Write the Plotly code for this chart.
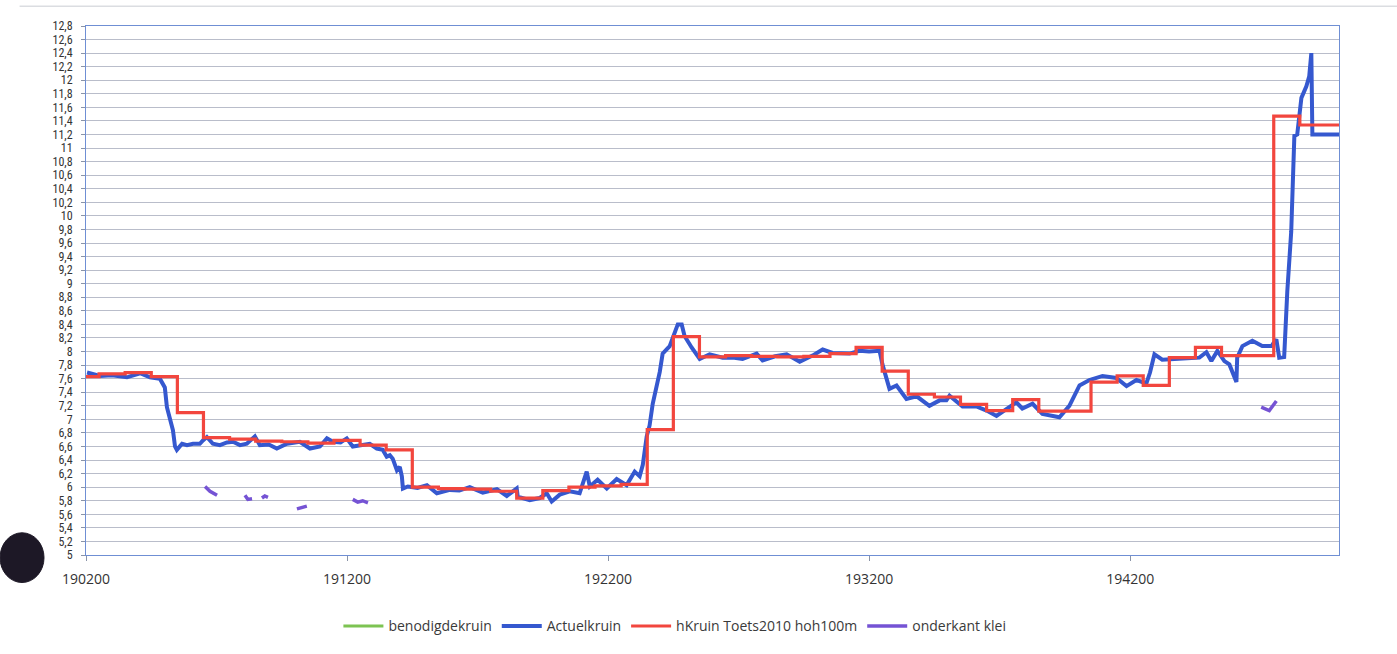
import plotly.graph_objects as go

# Dyke crest profile along the chainage (m)

# hKruin Toets2010, one value per 100 m section (station centres)
toets_x = list(range(190200, 195001, 100))
toets_y = [
    7.63, 7.67, 7.69, 7.63, 7.10, 6.73, 6.71, 6.68, 6.67, 6.65,
    6.69, 6.62, 6.55, 6.00, 5.98, 5.97, 5.94, 5.84, 5.95, 6.00,
    6.02, 6.04, 6.85, 8.22, 7.92, 7.94, 7.93, 7.92, 7.93, 7.97,
    8.06, 7.71, 7.37, 7.33, 7.22, 7.13, 7.29, 7.12, 7.12, 7.55,
    7.64, 7.50, 7.91, 8.06, 7.94, 7.94, 11.47, 11.34, 11.34,
]

# Measured actual crest height
actueel_x = [
    190204, 190254, 190300, 190357, 190407, 190445, 190483, 190502, 190510, 190522,
    190533, 190541, 190548, 190568, 190587, 190610, 190636, 190648, 190663, 190686,
    190713, 190740, 190763, 190790, 190816, 190847, 190866, 190900, 190931, 190970,
    191019, 191058, 191096, 191123, 191146, 191175, 191199, 191222, 191250, 191287,
    191314, 191337, 191352, 191364, 191375, 191391, 191402, 191410, 191414, 191433,
    191470, 191506, 191544, 191594, 191630, 191670, 191720, 191774, 191812, 191850,
    191854, 191900, 191938, 191965, 191984, 192015, 192053, 192091, 192118, 192130,
    192160, 192195, 192233, 192271, 192302, 192321, 192333, 192348, 192359, 192371,
    192398, 192409, 192436, 192467, 192482, 192493, 192520, 192551, 192589, 192639,
    192677, 192715, 192769, 192792, 192840, 192884, 192934, 192983, 193022, 193060,
    193125, 193163, 193200, 193240, 193251, 193267, 193278, 193305, 193328, 193343,
    193382, 193431, 193470, 193496, 193508, 193558, 193611, 193650, 193688, 193738,
    193764, 193787, 193826, 193864, 193929, 193967, 194006, 194044, 194094, 194147,
    194186, 194224, 194262, 194276, 194293, 194323, 194400, 194465, 194492, 194511,
    194534, 194561, 194580, 194607, 194610, 194630, 194668, 194706, 194741, 194760,
    194771, 194790, 194802, 194817, 194829, 194840, 194856, 194875, 194886, 194894,
    194898, 195000,
]
actueel_y = [
    7.69, 7.64, 7.65, 7.62, 7.68, 7.62, 7.60, 7.47, 7.18, 6.99,
    6.84, 6.60, 6.55, 6.64, 6.62, 6.64, 6.64, 6.69, 6.74, 6.64,
    6.62, 6.66, 6.67, 6.62, 6.64, 6.75, 6.62, 6.63, 6.57, 6.64,
    6.67, 6.57, 6.60, 6.72, 6.67, 6.66, 6.72, 6.60, 6.62, 6.64,
    6.57, 6.55, 6.45, 6.47, 6.42, 6.25, 6.30, 6.16, 5.98, 6.01,
    5.99, 6.03, 5.91, 5.96, 5.95, 6.00, 5.92, 5.97, 5.87, 5.98,
    5.86, 5.81, 5.84, 5.91, 5.79, 5.89, 5.94, 5.91, 6.23, 6.01,
    6.11, 5.98, 6.12, 6.03, 6.23, 6.16, 6.33, 6.75, 6.91, 7.23,
    7.70, 7.97, 8.08, 8.40, 8.40, 8.23, 8.06, 7.89, 7.96, 7.91,
    7.91, 7.89, 7.97, 7.87, 7.93, 7.96, 7.85, 7.94, 8.03, 7.98,
    7.97, 8.01, 8.00, 8.01, 7.81, 7.62, 7.45, 7.50, 7.38, 7.30,
    7.34, 7.20, 7.28, 7.28, 7.35, 7.19, 7.19, 7.13, 7.05, 7.19,
    7.25, 7.16, 7.23, 7.08, 7.03, 7.20, 7.50, 7.58, 7.64, 7.61,
    7.49, 7.58, 7.53, 7.69, 7.96, 7.88, 7.89, 7.91, 7.99, 7.86,
    8.01, 7.86, 7.81, 7.55, 7.91, 8.08, 8.16, 8.08, 8.08, 8.18,
    7.91, 7.92, 8.89, 9.77, 11.18, 11.20, 11.74, 11.91, 12.06, 12.40,
    11.20, 11.20,
]

# Underside of the clay layer (short measured fragments)
klei_x = [
    190656, 190675, 190702, None,
    190809, 190820, 190836, None,
    190874, 190885, 190897, None,
    191008, 191027, 191046, None,
    191222, 191241, 191260, 191280, None,
    194702, 194733, 194760,
]
klei_y = [
    6.01, 5.94, 5.88, None,
    5.88, 5.82, 5.83, None,
    5.84, 5.87, 5.85, None,
    5.68, 5.70, 5.72, None,
    5.82, 5.78, 5.80, 5.77, None,
    7.18, 7.13, 7.27,
]

# Required crest height (no values in this stretch)
benodigd_x = [None]
benodigd_y = [None]

fig = go.Figure()
fig.add_trace(go.Scatter(x=benodigd_x, y=benodigd_y, mode="lines", name="benodigdekruin",
                         showlegend=True, line=dict(color="#7dc352", width=3)))
fig.add_trace(go.Scatter(x=actueel_x, y=actueel_y, mode="lines", name="Actuelkruin",
                         line=dict(color="#3558cf", width=4)))
fig.add_trace(go.Scatter(x=toets_x, y=toets_y, mode="lines", name="hKruin Toets2010 hoh100m",
                         line=dict(color="#f2463e", width=3.2, shape="hvh")))
fig.add_trace(go.Scatter(x=klei_x, y=klei_y, mode="lines", name="onderkant klei",
                         line=dict(color="#7553d4", width=3.5), connectgaps=False))

tick_font = "Liberation Sans Narrow, Roboto Condensed, Roboto, sans-serif"
text_font = "Open Sans, Noto Sans, sans-serif"

fig.update_layout(
    width=1397, height=654,
    margin=dict(l=86, r=58, t=26, b=95),
    paper_bgcolor="white",
    plot_bgcolor="white",
    separators=",.",
    font=dict(family=text_font, size=14, color="#3a3a3a"),
    showlegend=True,
    legend=dict(orientation="h", x=0.47, xanchor="center", y=-0.135, yanchor="middle",
                font=dict(family=text_font, size=14, color="#3a3a3a"),
                itemwidth=40, bgcolor="rgba(0,0,0,0)"),
    xaxis=dict(
        range=[190200, 195000], tick0=190200, dtick=1000, tickformat="d",
        showgrid=False, zeroline=False,
        showline=True, linecolor="#6f8fd4", linewidth=1, mirror=True,
        ticks="outside", ticklen=5, tickcolor="#8a94a8", ticklabelstandoff=6,
        tickfont=dict(family=text_font, size=14, color="#333333"),
    ),
    yaxis=dict(
        range=[5, 12.8], tick0=5, dtick=0.2,
        showgrid=True, gridcolor="#b9bdca", gridwidth=1, zeroline=False,
        showline=True, linecolor="#6f8fd4", linewidth=1, mirror=True,
        ticks="outside", ticklen=4, tickcolor="#8a94a8", ticklabelstandoff=6,
        tickfont=dict(family=tick_font, size=12, color="#333333"),
    ),
    shapes=[
        # punch-hole mark at the lower left of the sheet
        dict(type="circle", xref="paper", yref="paper",
             x0=-0.0686, x1=-0.0335, y0=-0.052, y1=0.042,
             fillcolor="#1d1826", line=dict(color="#1d1826", width=1)),
        # sheet edge line along the top
        dict(type="line", xref="paper", yref="paper",
             x0=-0.053, x1=1.047, y0=1.0375, y1=1.0375,
             line=dict(color="#c9ccd2", width=1)),
    ],
)

fig.write_html("out.html")
